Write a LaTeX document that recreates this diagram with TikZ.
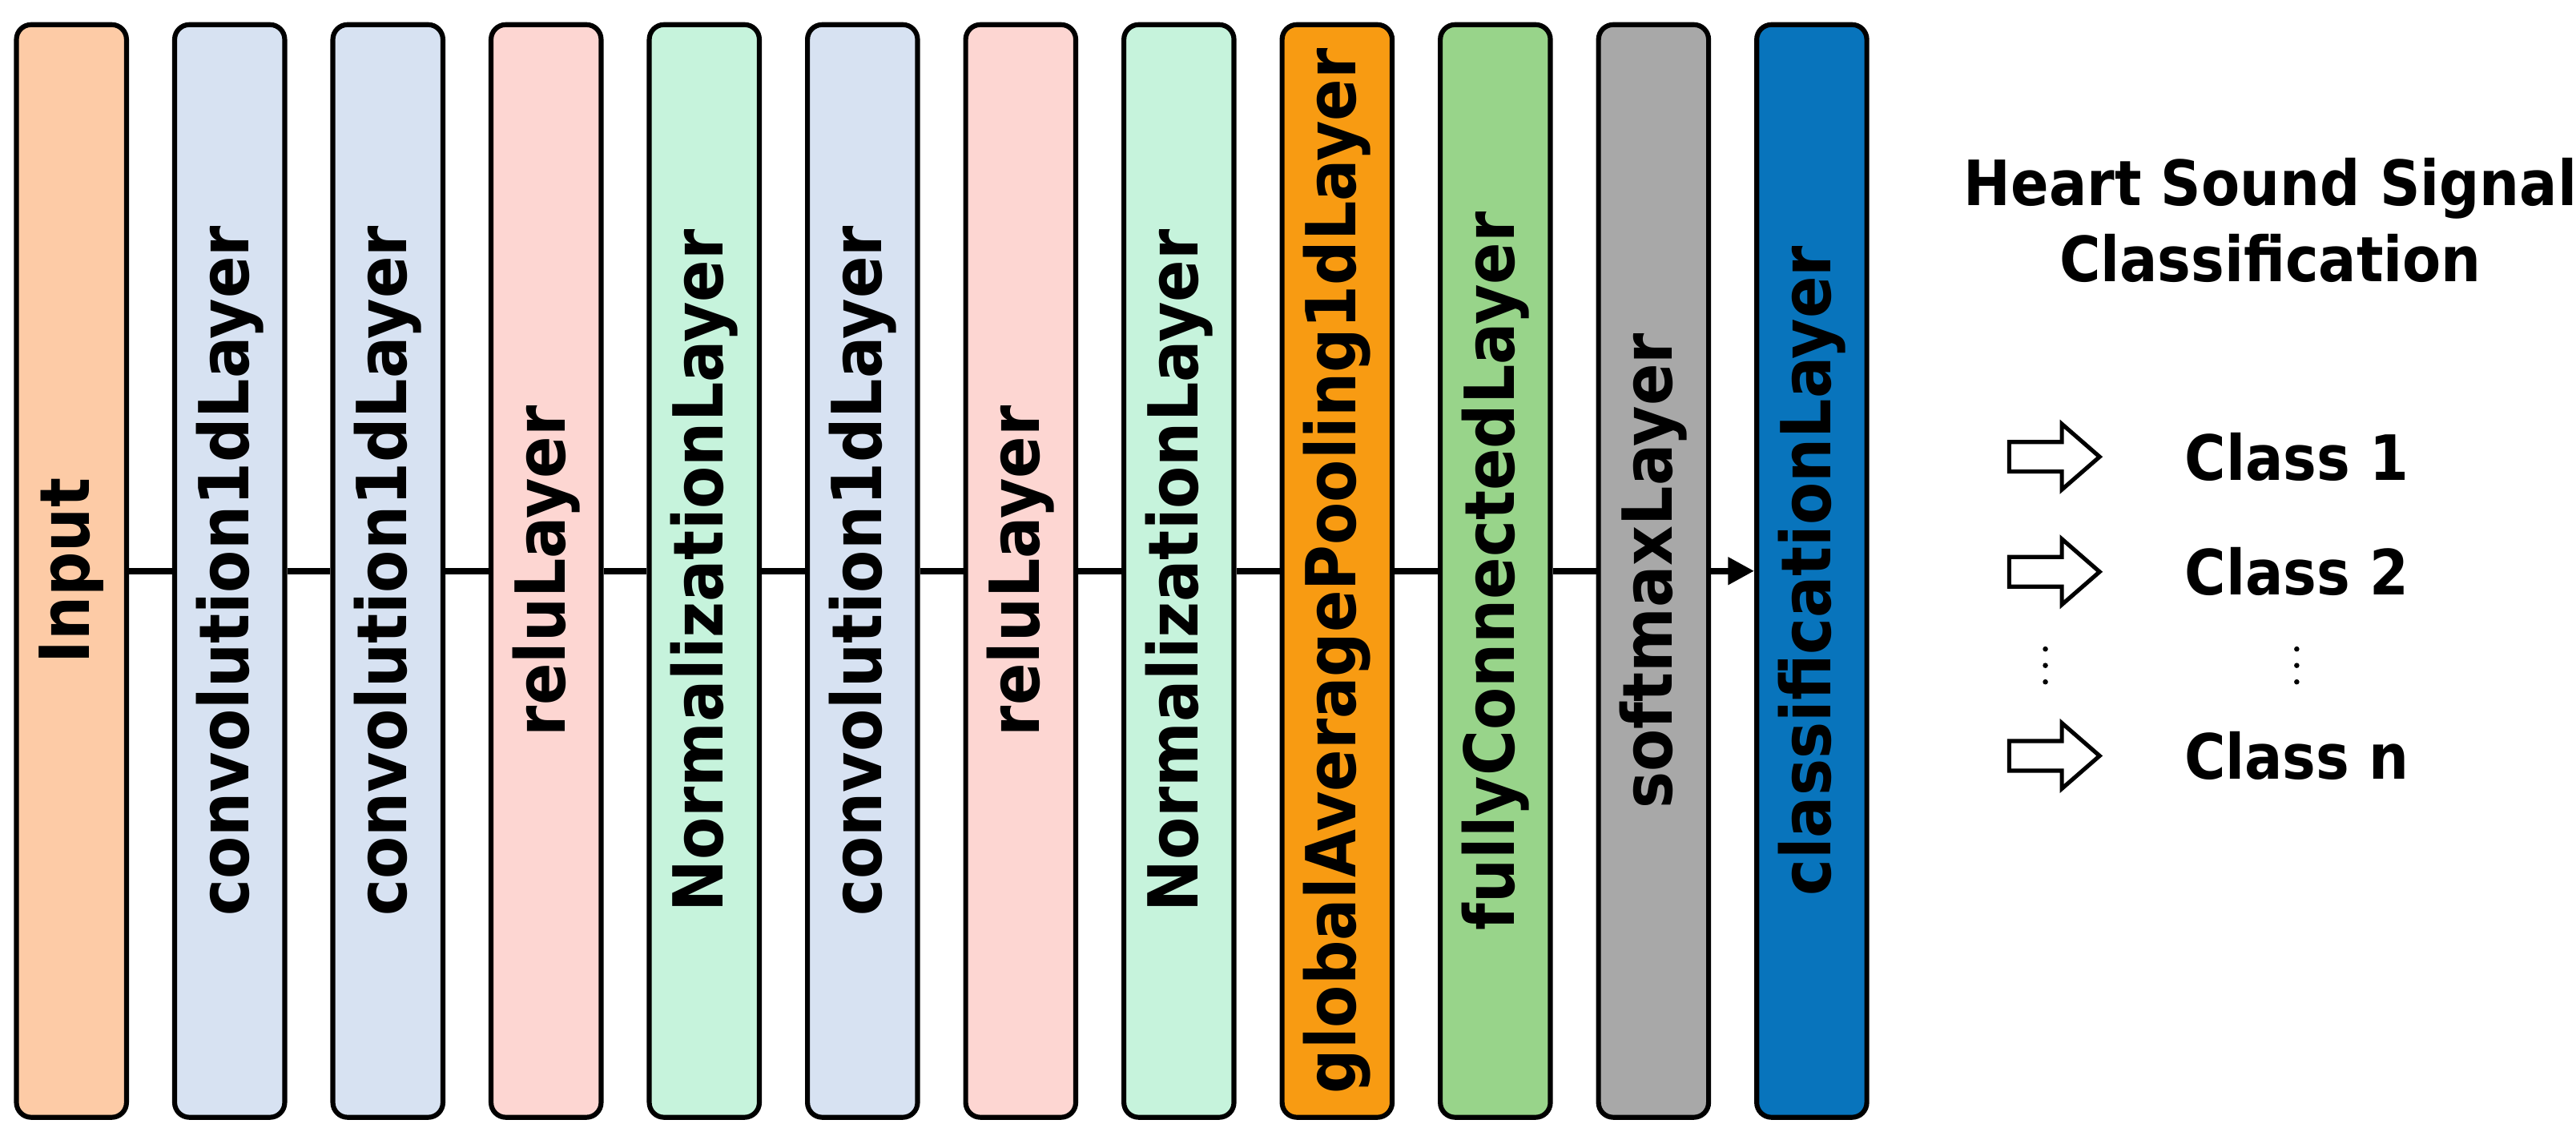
\documentclass[tikz,border=0pt]{standalone}
\usepackage{fontspec}
\setmainfont{DejaVu Sans Condensed}
\usetikzlibrary{arrows.meta}
\definecolor{cInput}{HTML}{FDCBA6}
\definecolor{cConv}{HTML}{D7E2F2}
\definecolor{cRelu}{HTML}{FDD6D2}
\definecolor{cNorm}{HTML}{C6F3DC}
\definecolor{cGap}{HTML}{F89B12}
\definecolor{cFc}{HTML}{98D48A}
\definecolor{cSoft}{HTML}{A8A8A8}
\definecolor{cCls}{HTML}{0874BC}
\tikzset{
  layer/.style={draw=black, line width=3pt, rounded corners=9pt, rotate=90,
    minimum width=665pt, minimum height=67pt, inner sep=0pt,
    font=\fontsize{42}{46}\selectfont\bfseries},
  conn/.style={line width=4pt},
  hollowpath/.style={draw=black, line width=2.5pt, fill=white, line join=miter},
  side/.style={font=\fontsize{38}{46}\selectfont\bfseries}
}
\begin{document}
\begin{tikzpicture}[x=1pt,y=1pt]
\useasboundingbox (0,0) rectangle (1568,-696);
\foreach \n/\t/\c [count=\i from 0] in {
 L0/Input/cInput, L1/convolution1dLayer/cConv, L2/convolution1dLayer/cConv,
 L3/reluLayer/cRelu, L4/NormalizationLayer/cNorm, L5/convolution1dLayer/cConv,
 L6/reluLayer/cRelu, L7/NormalizationLayer/cNorm, L8/globalAveragePooling1dLayer/cGap,
 L9/fullyConnectedLayer/cFc, L10/softmaxLayer/cSoft, L11/classificationLayer/cCls}
 \node[layer, fill=\c] (\n) at ({43.5+96.3*\i},-347.5) {\t};
\foreach \a/\b in {L0/L1,L1/L2,L2/L3,L3/L4,L4/L5,L5/L6,L6/L7,L7/L8,L8/L9,L9/L10}
 \draw[conn] (\a) -- (\b);
\draw[conn,-{Triangle[length=16pt,width=16pt]}] (L10) -- (L11);
\node[side,align=center] (title) at (1382,-134) {Heart Sound Signal\\Classification};
\foreach \y in {-278,-348,-460}
 \path[hollowpath] (1223,\y+9) -- (1255,\y+9) -- (1255,\y+20) -- (1278,\y) -- (1255,\y-20) -- (1255,\y-9) -- (1223,\y-9) -- cycle;
\node[side] (c1) at (1398,-278) {Class 1};
\node[side] (c2) at (1398,-348) {Class 2};
\node[side] (c3) at (1398,-460) {Class n};
\foreach \x in {1245,1398}
 \foreach \y in {-395,-405,-415}
  \fill (\x,\y) circle (1.6);
\end{tikzpicture}
\end{document}
